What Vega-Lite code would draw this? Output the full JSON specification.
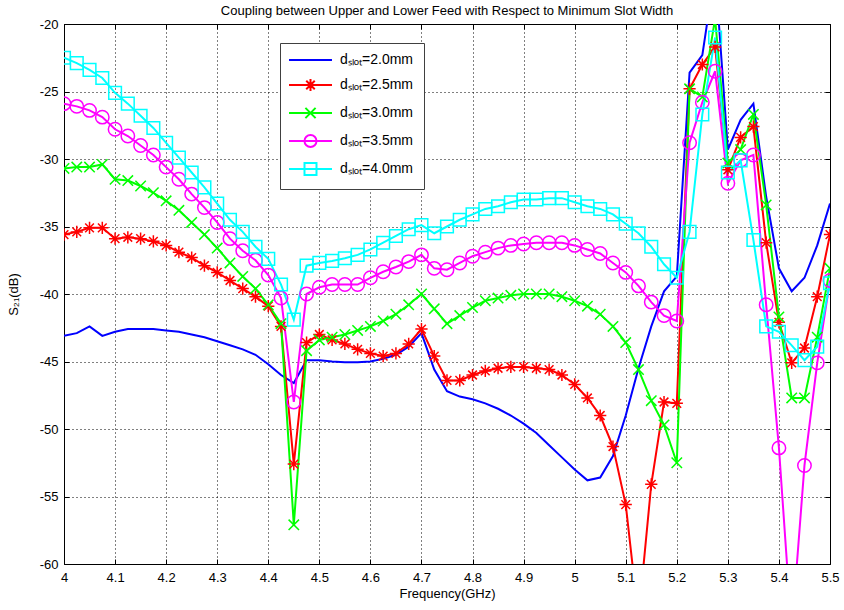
{
  "$schema": "https://vega.github.io/schema/vega-lite/v6.json",
  "width": 766,
  "height": 540,
  "autosize": {"type": "none"},
  "padding": {"left": 64, "top": 24, "right": 14, "bottom": 46},
  "background": "white",
  "title": {
    "text": "Coupling between Upper and Lower Feed with Respect to Minimum Slot Width",
    "font": "Liberation Sans",
    "fontSize": 13,
    "fontWeight": "normal",
    "color": "black",
    "anchor": "middle",
    "offset": 0
  },
  "config": {
    "view": {"stroke": "black", "strokeWidth": 1},
    "font": "Liberation Sans",
    "axis": {
      "domain": false,
      "tickColor": "black",
      "tickSize": -5,
      "labelFont": "Liberation Sans",
      "labelFontSize": 13,
      "labelColor": "black",
      "titleFont": "Liberation Sans",
      "titleFontSize": 13,
      "titleFontWeight": "normal",
      "titleColor": "black",
      "gridColor": "black",
      "gridDash": [1, 3],
      "gridOpacity": 1
    }
  },
  "data": {
    "values": [
      {"f": 4.000, "d20": -43.1, "d25": -35.6, "d30": -30.7, "d35": -25.9, "d40": -22.5},
      {"f": 4.025, "d20": -42.9, "d25": -35.4, "d30": -30.6, "d35": -26.1, "d40": -22.9},
      {"f": 4.050, "d20": -42.4, "d25": -35.1, "d30": -30.6, "d35": -26.4, "d40": -23.4},
      {"f": 4.075, "d20": -43.1, "d25": -35.1, "d30": -30.4, "d35": -26.9, "d40": -24.0},
      {"f": 4.100, "d20": -42.8, "d25": -35.9, "d30": -31.5, "d35": -27.8, "d40": -25.1},
      {"f": 4.125, "d20": -42.6, "d25": -35.8, "d30": -31.6, "d35": -28.3, "d40": -25.9},
      {"f": 4.150, "d20": -42.6, "d25": -35.9, "d30": -32.0, "d35": -29.0, "d40": -26.8},
      {"f": 4.175, "d20": -42.6, "d25": -36.1, "d30": -32.5, "d35": -29.7, "d40": -27.7},
      {"f": 4.200, "d20": -42.7, "d25": -36.4, "d30": -33.1, "d35": -30.6, "d40": -28.8},
      {"f": 4.225, "d20": -42.8, "d25": -36.9, "d30": -33.8, "d35": -31.5, "d40": -29.9},
      {"f": 4.250, "d20": -43.0, "d25": -37.3, "d30": -34.7, "d35": -32.6, "d40": -31.0},
      {"f": 4.275, "d20": -43.2, "d25": -37.9, "d30": -35.6, "d35": -33.6, "d40": -32.1},
      {"f": 4.300, "d20": -43.5, "d25": -38.4, "d30": -36.6, "d35": -34.7, "d40": -33.3},
      {"f": 4.325, "d20": -43.8, "d25": -39.0, "d30": -37.7, "d35": -35.9, "d40": -34.5},
      {"f": 4.350, "d20": -44.1, "d25": -39.6, "d30": -38.7, "d35": -36.8, "d40": -35.4},
      {"f": 4.375, "d20": -44.5, "d25": -40.2, "d30": -39.6, "d35": -37.5, "d40": -36.5},
      {"f": 4.400, "d20": -45.2, "d25": -40.9, "d30": -40.8, "d35": -38.6, "d40": -37.4},
      {"f": 4.425, "d20": -46.0, "d25": -42.4, "d30": -42.2, "d35": -40.3, "d40": -39.3},
      {"f": 4.450, "d20": -46.6, "d25": -52.6, "d30": -57.1, "d35": -48.0, "d40": -41.9},
      {"f": 4.475, "d20": -44.9, "d25": -43.6, "d30": -44.2, "d35": -40.0, "d40": -37.9},
      {"f": 4.500, "d20": -44.9, "d25": -43.0, "d30": -43.4, "d35": -39.5, "d40": -37.7},
      {"f": 4.525, "d20": -45.0, "d25": -43.4, "d30": -43.2, "d35": -39.3, "d40": -37.55},
      {"f": 4.550, "d20": -45.05, "d25": -43.7, "d30": -43.0, "d35": -39.3, "d40": -37.35},
      {"f": 4.575, "d20": -45.05, "d25": -44.1, "d30": -42.7, "d35": -39.3, "d40": -37.1},
      {"f": 4.600, "d20": -45.0, "d25": -44.4, "d30": -42.4, "d35": -38.8, "d40": -36.7},
      {"f": 4.625, "d20": -44.8, "d25": -44.6, "d30": -42.0, "d35": -38.35, "d40": -36.2},
      {"f": 4.650, "d20": -44.5, "d25": -44.4, "d30": -41.5, "d35": -38.0, "d40": -35.7},
      {"f": 4.675, "d20": -43.9, "d25": -43.7, "d30": -40.8, "d35": -37.6, "d40": -35.2},
      {"f": 4.700, "d20": -42.9, "d25": -42.6, "d30": -40.0, "d35": -37.1, "d40": -34.9},
      {"f": 4.725, "d20": -45.6, "d25": -44.6, "d30": -41.1, "d35": -38.1, "d40": -35.5},
      {"f": 4.750, "d20": -47.2, "d25": -46.4, "d30": -42.2, "d35": -38.2, "d40": -35.0},
      {"f": 4.775, "d20": -47.6, "d25": -46.4, "d30": -41.6, "d35": -37.7, "d40": -34.5},
      {"f": 4.800, "d20": -47.8, "d25": -46.0, "d30": -41.0, "d35": -37.2, "d40": -34.1},
      {"f": 4.825, "d20": -48.1, "d25": -45.7, "d30": -40.5, "d35": -36.9, "d40": -33.7},
      {"f": 4.850, "d20": -48.5, "d25": -45.5, "d30": -40.3, "d35": -36.6, "d40": -33.5},
      {"f": 4.875, "d20": -49.0, "d25": -45.4, "d30": -40.1, "d35": -36.4, "d40": -33.2},
      {"f": 4.900, "d20": -49.6, "d25": -45.4, "d30": -40.0, "d35": -36.3, "d40": -33.0},
      {"f": 4.925, "d20": -50.3, "d25": -45.5, "d30": -40.0, "d35": -36.2, "d40": -33.0},
      {"f": 4.950, "d20": -51.2, "d25": -45.6, "d30": -40.0, "d35": -36.2, "d40": -32.9},
      {"f": 4.975, "d20": -52.1, "d25": -46.0, "d30": -40.2, "d35": -36.2, "d40": -32.9},
      {"f": 5.000, "d20": -53.0, "d25": -46.7, "d30": -40.5, "d35": -36.4, "d40": -33.2},
      {"f": 5.025, "d20": -53.8, "d25": -47.7, "d30": -40.9, "d35": -36.7, "d40": -33.5},
      {"f": 5.050, "d20": -53.6, "d25": -49.0, "d30": -41.5, "d35": -37.0, "d40": -33.7},
      {"f": 5.075, "d20": -52.0, "d25": -51.3, "d30": -42.4, "d35": -37.7, "d40": -34.1},
      {"f": 5.100, "d20": -49.0, "d25": -55.6, "d30": -43.6, "d35": -38.4, "d40": -34.8},
      {"f": 5.125, "d20": -45.5, "d25": -64.0, "d30": -45.6, "d35": -39.4, "d40": -35.5},
      {"f": 5.150, "d20": -42.4, "d25": -54.1, "d30": -47.9, "d35": -40.6, "d40": -36.5},
      {"f": 5.175, "d20": -39.8, "d25": -48.0, "d30": -49.7, "d35": -41.6, "d40": -37.8},
      {"f": 5.200, "d20": -38.7, "d25": -48.1, "d30": -52.5, "d35": -42.0, "d40": -38.8},
      {"f": 5.225, "d20": -23.6, "d25": -24.8, "d30": -24.8, "d35": -28.8, "d40": -35.4},
      {"f": 5.250, "d20": -22.3, "d25": -23.0, "d30": -25.4, "d35": -25.8, "d40": -26.7},
      {"f": 5.275, "d20": -16.0, "d25": -21.7, "d30": -19.6, "d35": -23.5, "d40": -21.0},
      {"f": 5.300, "d20": -29.3, "d25": -30.8, "d30": -30.3, "d35": -31.8, "d40": -31.0},
      {"f": 5.325, "d20": -27.1, "d25": -28.4, "d30": -29.3, "d35": -30.1, "d40": -30.1},
      {"f": 5.350, "d20": -25.9, "d25": -27.6, "d30": -26.7, "d35": -29.7, "d40": -36.0},
      {"f": 5.375, "d20": -32.8, "d25": -36.2, "d30": -33.4, "d35": -40.8, "d40": -42.4},
      {"f": 5.400, "d20": -38.1, "d25": -42.1, "d30": -41.7, "d35": -51.4, "d40": -42.8},
      {"f": 5.425, "d20": -39.8, "d25": -45.1, "d30": -47.7, "d35": -65.0, "d40": -43.8},
      {"f": 5.450, "d20": -38.8, "d25": -44.0, "d30": -47.7, "d35": -52.7, "d40": -44.9},
      {"f": 5.475, "d20": -36.4, "d25": -40.2, "d30": -43.2, "d35": -45.1, "d40": -43.9},
      {"f": 5.500, "d20": -33.3, "d25": -35.6, "d30": -38.1, "d35": -39.0, "d40": -39.2}
    ]
  },
  "transform": [
    {"fold": ["d20", "d25", "d30", "d35", "d40"], "as": ["series", "s21"]}
  ],
  "resolve": {"axis": {"x": "independent", "y": "independent"}},
  "layer": [
    {
      "transform": [{"filter": "datum.s21 < -60"}],
      "mark": {"type": "point", "filled": false, "opacity": 1, "strokeWidth": 2, "clip": true},
      "encoding": {
        "x": {
          "field": "f", "type": "quantitative",
          "axis": {
            "orient": "top",
            "values": [4, 4.1, 4.2, 4.3, 4.4, 4.5, 4.6, 4.7, 4.8, 4.9, 5, 5.1, 5.2, 5.3, 5.4, 5.5],
            "labels": false, "grid": false, "title": null
          }
        },
        "y": {
          "field": "s21", "type": "quantitative",
          "axis": {
            "orient": "right",
            "values": [-60, -55, -50, -45, -40, -35, -30, -25, -20],
            "labels": false, "grid": false, "title": null
          }
        },
        "color": {
          "field": "series", "type": "nominal",
          "scale": {
            "domain": ["d20", "d25", "d30", "d35", "d40"],
            "range": ["#0000ff", "#ff0000", "#00ff00", "#ff00ff", "#00ffff"]
          },
          "legend": {
            "title": null,
            "orient": "none",
            "legendX": 216,
            "legendY": 19,
            "padding": 10,
            "strokeColor": "#404040",
            "fillColor": "white",
            "labelFont": "Liberation Sans",
            "labelFontSize": 14,
            "labelColor": "black",
            "rowPadding": 8,
            "labelOffset": 36,
            "symbolSize": 144,
            "symbolStrokeWidth": 2,
            "symbolFillColor": "transparent",
            "labelExpr": "'dₛₗₒₜ=' + slice(datum.label, 1, 2) + '.' + slice(datum.label, 2) + 'mm'"
          }
        },
        "shape": {
          "field": "series", "type": "nominal",
          "scale": {
            "domain": ["d20", "d25", "d30", "d35", "d40"],
            "range": [
              "M-1.33,0H5.83",
              "M-1.33,0H5.83M2.25,-1V1M1.25,0H3.25M1.54,-0.71L2.96,0.71M1.54,0.71L2.96,-0.71",
              "M-1.33,0H5.83M1.4,-0.85L3.1,0.85M1.4,0.85L3.1,-0.85",
              "M-1.33,0H5.83M3.25,0A1,1,0,1,1,1.25,0A1,1,0,1,1,3.25,0",
              "M-1.33,0H5.83M1.25,-1H3.25V1H1.25Z"
            ]
          },
          "legend": {
            "title": null,
            "orient": "none",
            "legendX": 216,
            "legendY": 19,
            "labelExpr": "'dₛₗₒₜ=' + slice(datum.label, 1, 2) + '.' + slice(datum.label, 2) + 'mm'"
          }
        }
      }
    },
    {
      "mark": {"type": "line", "strokeWidth": 2, "clip": true},
      "encoding": {
        "x": {
          "field": "f", "type": "quantitative",
          "scale": {"domain": [4, 5.5], "nice": false, "zero": false},
          "axis": {
            "orient": "bottom",
            "values": [4, 4.1, 4.2, 4.3, 4.4, 4.5, 4.6, 4.7, 4.8, 4.9, 5, 5.1, 5.2, 5.3, 5.4, 5.5],
            "labelExpr": "'' + datum.value",
            "grid": true,
            "labelPadding": 12,
            "labelFlush": false,
            "title": "Frequency(GHz)",
            "titlePadding": 3
          }
        },
        "y": {
          "field": "s21", "type": "quantitative",
          "scale": {"domain": [-60, -20], "nice": false, "zero": false},
          "axis": {
            "orient": "left",
            "values": [-60, -55, -50, -45, -40, -35, -30, -25, -20],
            "labelExpr": "'' + datum.value",
            "grid": true,
            "labelPadding": 11,
            "labelFlush": false,
            "title": "S₂₁(dB)",
            "titlePadding": 19
          }
        },
        "color": {
          "field": "series", "type": "nominal",
          "scale": {
            "domain": ["d20", "d25", "d30", "d35", "d40"],
            "range": ["#0000ff", "#ff0000", "#00ff00", "#ff00ff", "#00ffff"]
          }
        },
        "detail": {"field": "series"}
      }
    },
    {
      "transform": [{"filter": "datum.series == 'd25'"}],
      "mark": {
        "type": "point", "filled": false, "opacity": 1, "clip": true,
        "shape": "M0,-1V1M-1,0H1M-0.71,-0.71L0.71,0.71M-0.71,0.71L0.71,-0.71",
        "stroke": "#ff0000", "strokeWidth": 1.5, "size": 150
      },
      "encoding": {
        "x": {"field": "f", "type": "quantitative", "axis": null},
        "y": {"field": "s21", "type": "quantitative", "axis": null}
      }
    },
    {
      "transform": [{"filter": "datum.series == 'd30'"}],
      "mark": {
        "type": "point", "filled": false, "opacity": 1, "clip": true,
        "shape": "M-0.85,-0.85L0.85,0.85M-0.85,0.85L0.85,-0.85",
        "stroke": "#00ff00", "strokeWidth": 1.5, "size": 150
      },
      "encoding": {
        "x": {"field": "f", "type": "quantitative", "axis": null},
        "y": {"field": "s21", "type": "quantitative", "axis": null}
      }
    },
    {
      "transform": [{"filter": "datum.series == 'd35'"}],
      "mark": {
        "type": "point", "filled": false, "opacity": 1, "clip": true,
        "shape": "circle",
        "stroke": "#ff00ff", "strokeWidth": 1.5, "size": 180
      },
      "encoding": {
        "x": {"field": "f", "type": "quantitative", "axis": null},
        "y": {"field": "s21", "type": "quantitative", "axis": null}
      }
    },
    {
      "transform": [{"filter": "datum.series == 'd40'"}],
      "mark": {
        "type": "point", "filled": false, "opacity": 1, "clip": true,
        "shape": "square",
        "stroke": "#00ffff", "strokeWidth": 1.5, "size": 160
      },
      "encoding": {
        "x": {"field": "f", "type": "quantitative", "axis": null},
        "y": {"field": "s21", "type": "quantitative", "axis": null}
      }
    }
  ]
}
